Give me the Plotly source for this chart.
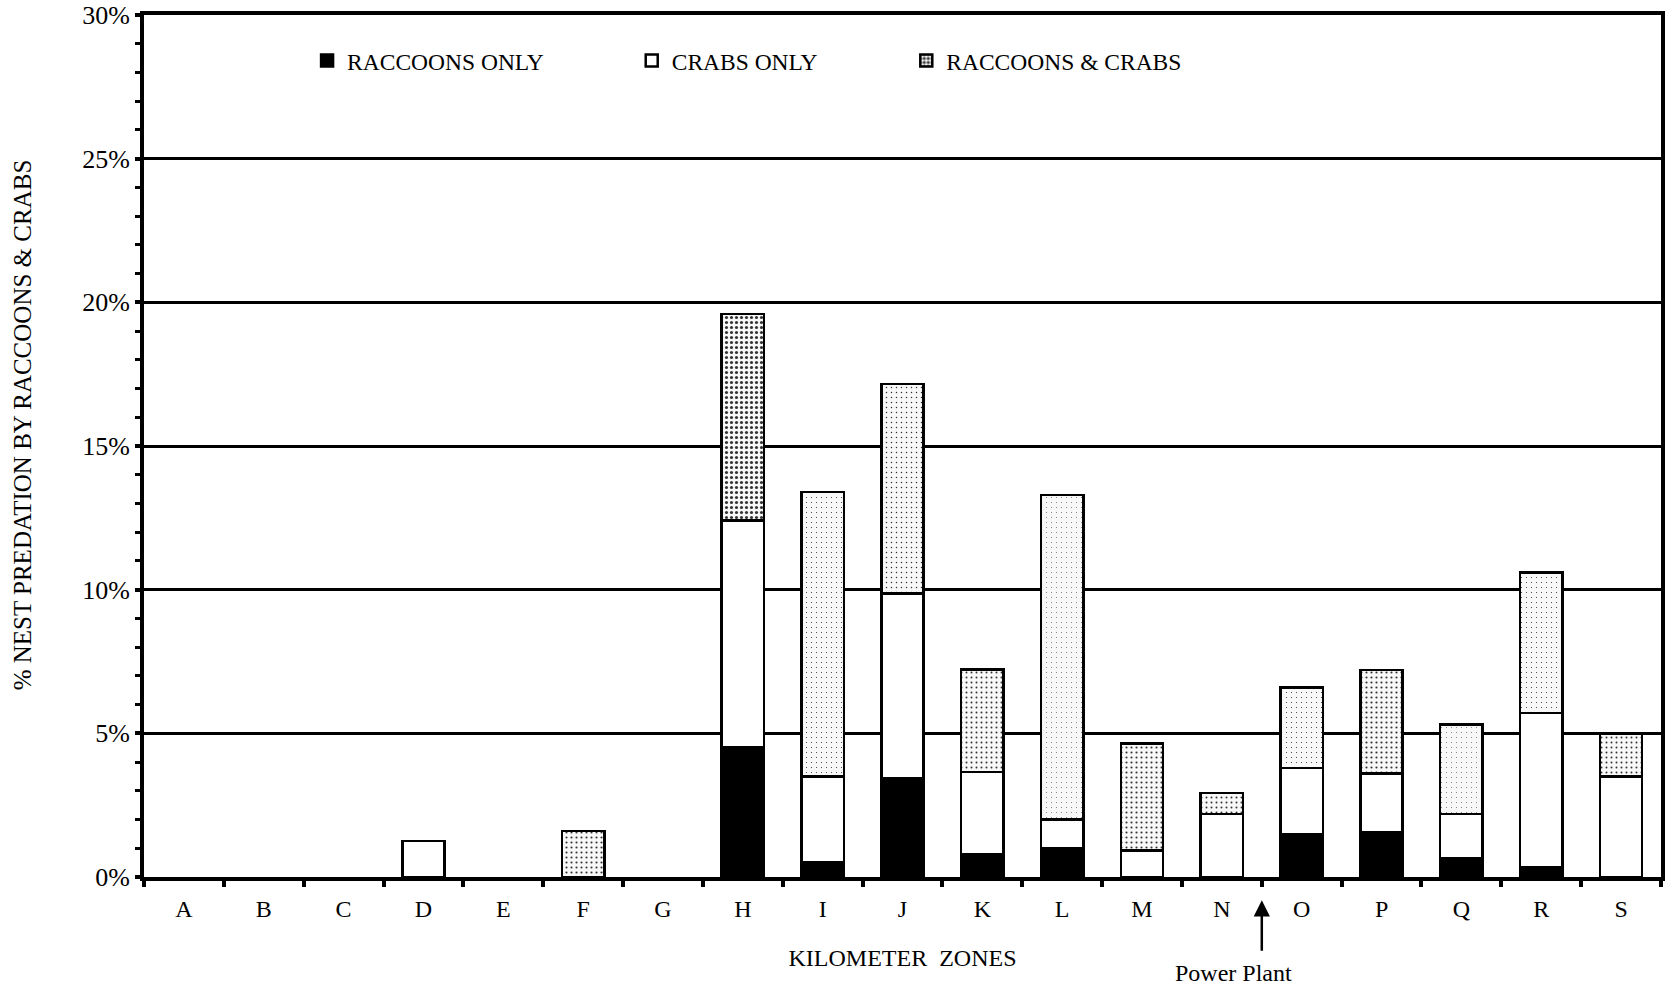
import plotly.graph_objects as go

zones = list("ABCDEFGHIJKLMNOPQRS")
raccoons_only = [0, 0, 0, 0, 0, 0, 0, 4.5, 0.5, 3.45, 0.8, 1.0, 0, 0, 1.5, 1.55, 0.65, 0.35, 0]
crabs_only = [0, 0, 0, 1.26, 0, 0, 0, 7.9, 3.0, 6.42, 2.85, 1.0, 0.93, 2.2, 2.3, 2.05, 1.55, 5.35, 3.5]
raccoons_and_crabs = [0, 0, 0, 0, 0, 1.6, 0, 7.2, 9.9, 7.28, 3.57, 11.3, 3.71, 0.73, 2.8, 3.6, 3.1, 4.9, 1.5]
stipple_density = [0.1, 0.1, 0.1, 0.1, 0.1, 0.14, 0.1, 0.3, 0.04, 0.07, 0.12, 0.03, 0.14, 0.12, 0.04, 0.15, 0.03, 0.04, 0.12]


def nz(vals):
    return [v if v else None for v in vals]


FONT = "Liberation Serif, Times New Roman, serif"
BW = 0.53
LW = 2.5

fig = go.Figure()
fig.add_trace(go.Bar(
    x=zones, y=nz(raccoons_only), name="RACCOONS ONLY", width=BW,
    marker=dict(color="black", line=dict(color="black", width=LW)),
    legend="legend",
))
fig.add_trace(go.Bar(
    x=zones, y=nz(crabs_only), name="CRABS ONLY", width=BW,
    marker=dict(color="white", line=dict(color="black", width=LW)),
    legend="legend2",
))
fig.add_trace(go.Bar(
    x=zones, y=nz(raccoons_and_crabs), name="RACCOONS & CRABS", width=BW,
    marker=dict(color="white", line=dict(color="black", width=LW),
                pattern=dict(shape=".", fgcolor="#333333", bgcolor="#f8f8f8",
                             size=5, solidity=stipple_density, fillmode="replace")),
    legend="legend3",
))

legend_common = dict(orientation="h", yanchor="middle", y=0.947, xanchor="left",
                     font=dict(family=FONT, size=23.5, color="black"),
                     bgcolor="rgba(0,0,0,0)", itemwidth=30)

fig.update_layout(
    barmode="stack",
    width=1672, height=991,
    margin=dict(l=144, r=11, t=15, b=114),
    plot_bgcolor="white", paper_bgcolor="white",
    font=dict(family=FONT, size=24, color="black"),
    showlegend=True,
    legend=dict(legend_common, x=0.1075),
    legend2=dict(legend_common, x=0.3215),
    legend3=dict(legend_common, x=0.5025),
    xaxis=dict(
        type="category", categoryorder="array", categoryarray=zones,
        range=[-0.5, 18.5], automargin=False,
        showline=True, linecolor="black", linewidth=4, mirror=True,
        ticks="outside", tickson="boundaries", ticklen=6, tickwidth=4, tickcolor="black",
        ticklabelstandoff=7,
        tickfont=dict(family=FONT, size=24, color="black"),
        showgrid=False,
        title=dict(text="KILOMETER\u00a0\u00a0ZONES", font=dict(family=FONT, size=24, color="black"),
                   standoff=29),
    ),
    yaxis=dict(
        range=[0, 30], dtick=5, tick0=0, ticksuffix="%", automargin=False,
        showline=True, linecolor="black", linewidth=4, mirror=True,
        ticks="outside", ticklen=5, tickwidth=4, tickcolor="black",
        ticklabelstandoff=0,
        minor=dict(dtick=1, ticks="outside", ticklen=5, tickwidth=3, tickcolor="black", showgrid=False),
        showgrid=True, gridcolor="black", gridwidth=3,
        zeroline=False,
        tickfont=dict(family=FONT, size=26, color="black"),
    ),
    annotations=[
        dict(x=-0.0804, y=0.524, xref="paper", yref="paper", textangle=-90,
             text="% NEST PREDATION BY RACCOONS & CRABS", showarrow=False,
             font=dict(family=FONT, size=25, color="black"), xanchor="center", yanchor="middle"),
        dict(x=13.5, y=-0.027, xref="x", yref="paper", text="", showarrow=True,
             ax=0, ay=52, arrowhead=2, arrowsize=1.3, arrowwidth=2.5, arrowcolor="black"),
        dict(x=13.14, y=-0.111, xref="x", yref="paper", text="Power Plant", showarrow=False,
             font=dict(family=FONT, size=24, color="black"), xanchor="center", yanchor="middle"),
    ],
)

fig.write_html("out.html", config={"displayModeBar": False},
               post_script="document.body.style.margin='0';")
